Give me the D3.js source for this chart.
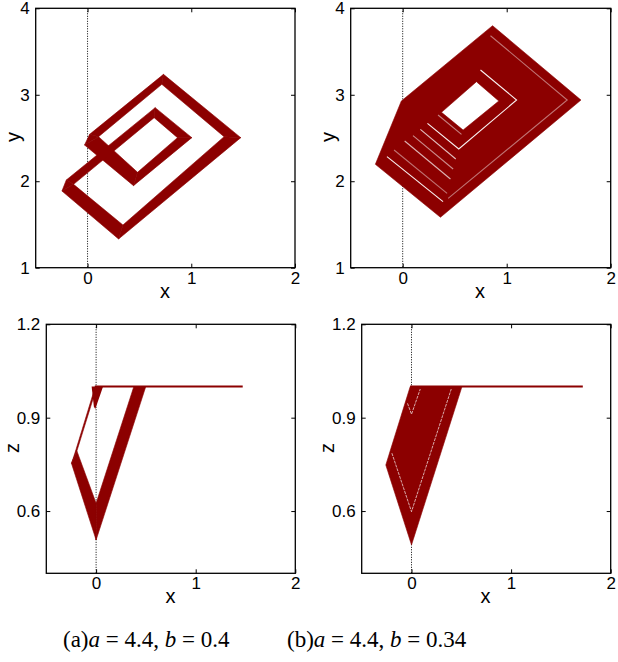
<!DOCTYPE html>
<html><head><meta charset="utf-8">
<script src="https://cdn.jsdelivr.net/npm/d3@7"></script>
<style>body{margin:0;background:#fff}</style>
</head><body>
<svg id="c" width="618" height="662"></svg>
<script>
// ---------------- data ----------------
const xTicks = [0, 1, 2];
const yTicks = [1, 2, 3, 4];
const zTicks = [0.6, 0.9, 1.2];
const zTickLabels = ["0.6", "0.9", "1.2"];

// (a) x-y : the two bounding trajectories of the orbit band (one period, vertex by vertex)
const aOuterX = [-0.247, 0.299, 1.477, 0.732, 0.020, -0.029, 0.443, 1.005, 0.652, -0.205];
const aOuterY = [ 1.887, 1.332, 2.504, 3.236, 2.542,  2.419, 1.949, 2.504, 2.851,  2.014];
const aInnerX = [-0.135, 0.341, 1.316, 0.716, 0.106,  0.106, 0.482, 0.867, 0.642, -0.135];
const aInnerY = [ 1.964, 1.494, 2.515, 3.121, 2.515,  2.515, 2.103, 2.504, 2.735,  1.964];

// (b) x-y : envelope of the attractor, its hole, and the thin gaps between bands
const bEnvX  = [-0.263, 0.363, 1.714, 0.864, -0.013];
const bEnvY  = [ 2.196, 1.583, 2.939, 3.799,  2.928];
const bHoleX = [0.373, 0.581, 0.924, 0.709];
const bHoleY = [2.797, 2.592, 2.928, 3.151];
const bGaps = [
  [[-0.151, 2.284], [0.388, 1.764]],
  [[-0.083, 2.361], [0.427, 1.860]],
  [[0.019, 2.465], [0.459, 2.026]],
  [[0.099, 2.527], [0.485, 2.141]],
  [[0.170, 2.600], [0.510, 2.257]],
  [[0.238, 2.670], [0.539, 2.373], [1.095, 2.939], [0.748, 3.286]],
  [[0.340, 2.766], [0.565, 2.542]],
  [[0.844, 3.683], [1.582, 2.939], [0.437, 1.802]]
];
const bGapAlpha = [0.95, 0.45, 0.7, 0.55, 0.75, 0.95, 0.5, 0.45];

// (c) x-z : bounding trajectories of the descending / rising band, the saturated line and the small wedge
const cOuterX = [-0.008, -0.207, -0.247, 0.000, 0.499];
const cOuterZ = [ 1.000,  0.792,  0.753, 0.507, 1.000];
const cInnerX = [ 0.008, -0.193, -0.193, 0.000, 0.379];
const cInnerZ = [ 1.000,  0.793,  0.793, 0.625, 1.000];
const cLineX = [-0.013, 1.472];
const cLineZ = [1.0, 1.0];
const cWedgeX = [-0.045, 0.070, -0.008, -0.022];
const cWedgeZ = [ 1.000, 1.000,  0.928,  0.935];

// (d) x-z : envelope, saturated line and gaps
const dEnvX = [-0.013, 0.507, 0.000, -0.258];
const dEnvZ = [ 1.000, 1.000, 0.491,  0.748];
const dLineX = [-0.013, 1.720];
const dLineZ = [1.0, 1.0];
const dGaps = [
  [[-0.197, 0.786], [0.000, 0.598], [0.399, 0.992]],
  [[-0.040, 0.946], [0.000, 0.911], [0.088, 0.992]]
];

const captionA = [["(a)", false], ["a", true], [" = 4.4, ", false], ["b", true], [" = 0.4", false]];
const captionB = [["(b)", false], ["a", true], [" = 4.4, ", false], ["b", true], [" = 0.34", false]];

// ---------------- drawing ----------------
const RED = "#8c0000";
const svg = d3.select("#c");
const SANS = "Liberation Sans, Arial, Helvetica, sans-serif";

function panel(box, xDom, yDom, yVals, yFmt, yName, xLab, yLab) {
  const g = svg.append("g");
  const x = d3.scaleLinear().domain(xDom).range([box.l, box.r]);
  const y = d3.scaleLinear().domain(yDom).range([box.b, box.t]);
  const under = g.append("g");
  const marks = g.append("g");
  const over = g.append("g");
  // dotted x = 0 line
  under.append("line")
    .attr("x1", x(0)).attr("x2", x(0)).attr("y1", box.t).attr("y2", box.b)
    .attr("stroke", "#000").attr("stroke-width", 1).attr("stroke-dasharray", "1,1.5");
  // frame
  over.append("rect").attr("x", box.l).attr("y", box.t)
    .attr("width", box.r - box.l).attr("height", box.b - box.t)
    .attr("fill", "none").attr("stroke", "#000").attr("stroke-width", 1.3);
  const style = sel => {
    sel.select(".domain").remove();
    sel.selectAll("line").attr("stroke", "#000").attr("stroke-width", 1);
    sel.selectAll("text").attr("font-size", 17).attr("font-family", SANS).attr("fill", "#000");
    sel.attr("font-size", null).attr("font-family", null);
  };
  over.append("g").attr("transform", `translate(0,${box.b})`)
    .call(d3.axisBottom(x).tickValues(xTicks).tickSize(-4).tickPadding(box.xpad).tickFormat(d3.format("d"))).call(style);
  over.append("g").attr("transform", `translate(0,${box.t})`)
    .call(d3.axisTop(x).tickValues(xTicks).tickSize(-4).tickFormat("")).call(style);
  over.append("g").attr("transform", `translate(${box.l},0)`)
    .call(d3.axisLeft(y).tickValues(yVals).tickSize(-4).tickPadding(6).tickFormat(yFmt)).call(style);
  over.append("g").attr("transform", `translate(${box.r},0)`)
    .call(d3.axisRight(y).tickValues(yVals).tickSize(-4).tickFormat("")).call(style);
  // axis titles
  over.append("text").attr("x", xLab[0]).attr("y", xLab[1]).attr("text-anchor", "middle")
    .attr("dominant-baseline", "central").attr("font-family", SANS).attr("font-size", 20).text("x");
  over.append("text").attr("transform", `translate(${yLab[0]},${yLab[1]}) rotate(-90)`)
    .attr("text-anchor", "middle").attr("dominant-baseline", "central")
    .attr("font-family", SANS).attr("font-size", 20).text(yName);
  return {x, y, marks};
}

function bandQuads(ox, oy, ix, iy, closed) {
  const n = ox.length, q = [];
  const m = closed ? n : n - 1;
  for (let i = 0; i < m; i++) {
    const j = (i + 1) % n;
    q.push([[ox[i], oy[i]], [ox[j], oy[j]], [ix[j], iy[j]], [ix[i], iy[i]]]);
  }
  return q;
}
function drawQuads(p, quads) {
  const line = d3.line().x(d => p.x(d[0])).y(d => p.y(d[1]));
  p.marks.selectAll(null).data(quads).join("path")
    .attr("d", d => line(d) + "Z")
    .attr("fill", RED).attr("stroke", RED).attr("stroke-width", 0.6).attr("stroke-linejoin", "round");
}
const zip = (a, b) => a.map((v, i) => [v, b[i]]);

// geometry of the four frames
const A = {l: 35.7, r: 295.0, t: 8.3, b: 267.7, xpad: 4.5};
const B = {l: 350.7, r: 610.7, t: 8.3, b: 267.7, xpad: 4.5};
const C = {l: 46.3, r: 295.3, t: 324.3, b: 573.3, xpad: 3.5};
const D = {l: 361.7, r: 610.7, t: 324.3, b: 573.3, xpad: 3.5};

const fmtInt = d3.format("d");
const fmtZ = d => zTickLabels[zTicks.indexOf(d)];

// (a)
const pa = panel(A, [-0.5, 2], [1, 4], yTicks, fmtInt, "y", [165, 291], [13, 137]);
drawQuads(pa, bandQuads(aOuterX, aOuterY, aInnerX, aInnerY, true));

// (b)
const pb = panel(B, [-0.5, 2], [1, 4], yTicks, fmtInt, "y", [480, 291], [328, 137]);
{
  const line = d3.line().x(d => pb.x(d[0])).y(d => pb.y(d[1]));
  pb.marks.append("path")
    .attr("d", line(zip(bEnvX, bEnvY)) + "Z" + line(zip(bHoleX, bHoleY)) + "Z")
    .attr("fill", RED).attr("fill-rule", "evenodd").attr("stroke", RED).attr("stroke-width", 0.6);
  pb.marks.selectAll(null).data(bGaps).join("path")
    .attr("d", d => line(d)).attr("fill", "none").attr("stroke", "#fff")
    .attr("stroke-width", 1.1).attr("stroke-opacity", (d, i) => bGapAlpha[i]);
}

// (c)
const pc = panel(C, [-0.5, 2], [0.4, 1.2], zTicks, fmtZ, "z", [170.5, 596], [12, 448]);
{
  const line = d3.line().x(d => pc.x(d[0])).y(d => pc.y(d[1]));
  pc.marks.append("path").attr("d", line(zip(cLineX, cLineZ)))
    .attr("stroke", RED).attr("stroke-width", 2).attr("fill", "none");
  drawQuads(pc, bandQuads(cOuterX, cOuterZ, cInnerX, cInnerZ, false));
  pc.marks.append("path").attr("d", line(zip(cWedgeX, cWedgeZ)) + "Z").attr("fill", RED);
}

// (d)
const pd = panel(D, [-0.5, 2], [0.4, 1.2], zTicks, fmtZ, "z", [485.5, 596], [327, 448]);
{
  const line = d3.line().x(d => pd.x(d[0])).y(d => pd.y(d[1]));
  pd.marks.append("path").attr("d", line(zip(dLineX, dLineZ)))
    .attr("stroke", RED).attr("stroke-width", 2).attr("fill", "none");
  pd.marks.append("path").attr("d", line(zip(dEnvX, dEnvZ)) + "Z")
    .attr("fill", RED).attr("stroke", RED).attr("stroke-width", 0.6);
  pd.marks.selectAll(null).data(dGaps).join("path")
    .attr("d", d => line(d)).attr("fill", "none").attr("stroke", "#fff")
    .attr("stroke-width", 0.9).attr("stroke-opacity", 0.75).attr("stroke-dasharray", "3,1");
}

// captions
function caption(x, y, parts) {
  const t = svg.append("text").attr("x", x).attr("y", y)
    .attr("font-family", "Liberation Serif, Times New Roman, serif").attr("font-size", 23)
    .attr("xml:space", "preserve");
  parts.forEach(p => t.append("tspan").attr("font-style", p[1] ? "italic" : "normal").text(p[0]));
}
caption(63, 647, captionA);
caption(287, 647, captionB);
</script>
</body></html>
